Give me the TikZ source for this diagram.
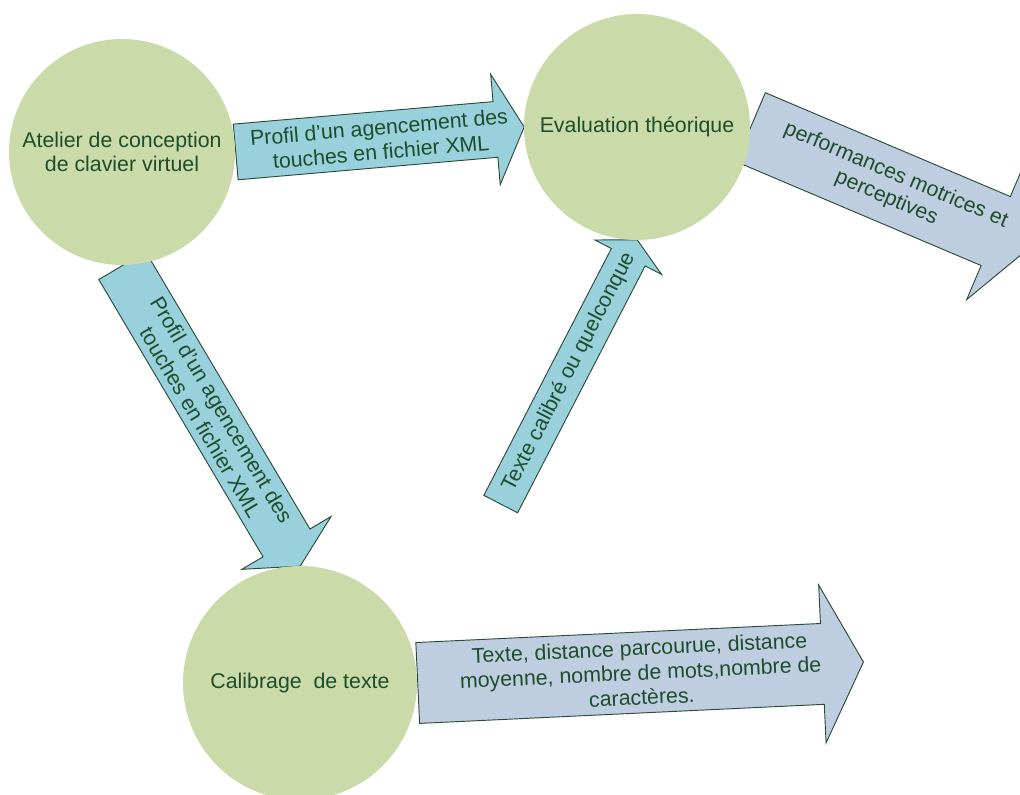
\documentclass[tikz,border=0pt]{standalone}
\usepackage{fontspec}
\setmainfont{Liberation Sans}
\usetikzlibrary{shapes.arrows, calc, backgrounds}
\definecolor{leaf}{HTML}{CBDAA9}
\definecolor{aqua}{HTML}{98D0DC}
\definecolor{steel}{HTML}{BFCDE1}
\definecolor{ink}{HTML}{1E4D2B}
\definecolor{rim}{HTML}{2B4B3A}
\tikzset{
    flow/.style={x=0.75pt, y=-0.75pt, font=\fontsize{16}{18.5}\selectfont, text=ink},
    stage/.style={circle, fill=leaf, inner sep=0pt, align=center},
    blockarrow/.style={single arrow, draw=rim, line width=0.7pt, inner xsep=0pt,
        single arrow tip angle=125, anchor=tail},
    % text laid along an arrow, from tail to tip
    arrowtext/.style={midway, sloped, align=center, inner sep=1pt},
}

\begin{document}
\begin{tikzpicture}[flow]
    \useasboundingbox (0,0) rectangle (1020,795);
    \clip (0,0) rectangle (1020,795);

    \node[stage, minimum size=169.5pt] (atelier) at (122,152) {Atelier de conception\\de clavier virtuel};
    \node[stage, minimum size=169.5pt] (eval)    at (637,127) {Evaluation théorique};
    \node[stage, minimum size=175.5pt] (calib)   at (300,683) {Calibrage~ de texte};
    \coordinate (textin)  at (500.5,504.5);
    \coordinate (perfout) at (1031,246);
    \coordinate (dataout) at (863,662);

    % the arrows go under the circles
    \begin{pgfonlayer}{background}
    % atelier -> evaluation
    \path let \p1=($(eval.west)-(atelier.east)$), \n1={atan2(\y1,\x1)}, \n2={veclen(\x1,\y1)} in
        node[blockarrow, fill=aqua, inner ysep=20.6pt, single arrow head extend=20.6pt,
             rotate=\n1, minimum height=\n2] (xmlA) at (atelier.east) {};

    % atelier -> calibrage
    \path let \p1=($(calib.north)-(atelier.south)$), \n1={atan2(\y1,\x1)}, \n2={veclen(\x1,\y1)} in
        node[blockarrow, fill=aqua, inner ysep=20.1pt, single arrow head extend=18.4pt,
             rotate=\n1, minimum height=\n2] (xmlB) at (atelier.south) {};

    % texte -> evaluation
    \path let \p1=($(eval.south)-(textin)$), \n1={atan2(\y1,\x1)}, \n2={veclen(\x1,\y1)} in
        node[blockarrow, fill=aqua, inner ysep=13.9pt, single arrow head extend=13.9pt,
             rotate=\n1, minimum height=\n2] (texte) at (textin) {};

    % sorties
    \path let \p1=($(perfout)-(eval.east)$), \n1={atan2(\y1,\x1)}, \n2={veclen(\x1,\y1)} in
        node[blockarrow, fill=steel, inner ysep=27.75pt, single arrow head extend=27.75pt,
             rotate=\n1, minimum height=\n2] (perf) at (eval.east) {};
    \path let \p1=($(dataout)-(calib.east)$), \n1={atan2(\y1,\x1)}, \n2={veclen(\x1,\y1)} in
        node[blockarrow, fill=steel, inner ysep=30pt, single arrow head extend=28.9pt,
             rotate=\n1, minimum height=\n2] (mesures) at (calib.east) {};
    \end{pgfonlayer}

    \path (xmlA.tail) -- (xmlA.tip) node[arrowtext] {Profil d’un agencement des\\touches en fichier XML};
    \path (xmlB.tail) -- (xmlB.tip) node[arrowtext] {Profil d’un agencement des\\touches en fichier XML};
    \path (texte.tail) -- (texte.tip) node[arrowtext] {Texte calibré ou quelconque};
    \path (perf.tail) -- (perf.tip) node[arrowtext] {performances motrices et\\perceptives};
    \path (mesures.tail) -- (mesures.tip) node[arrowtext] {Texte, distance parcourue, distance\\moyenne, nombre de mots,nombre de\\caractères.};
\end{tikzpicture}
\end{document}
